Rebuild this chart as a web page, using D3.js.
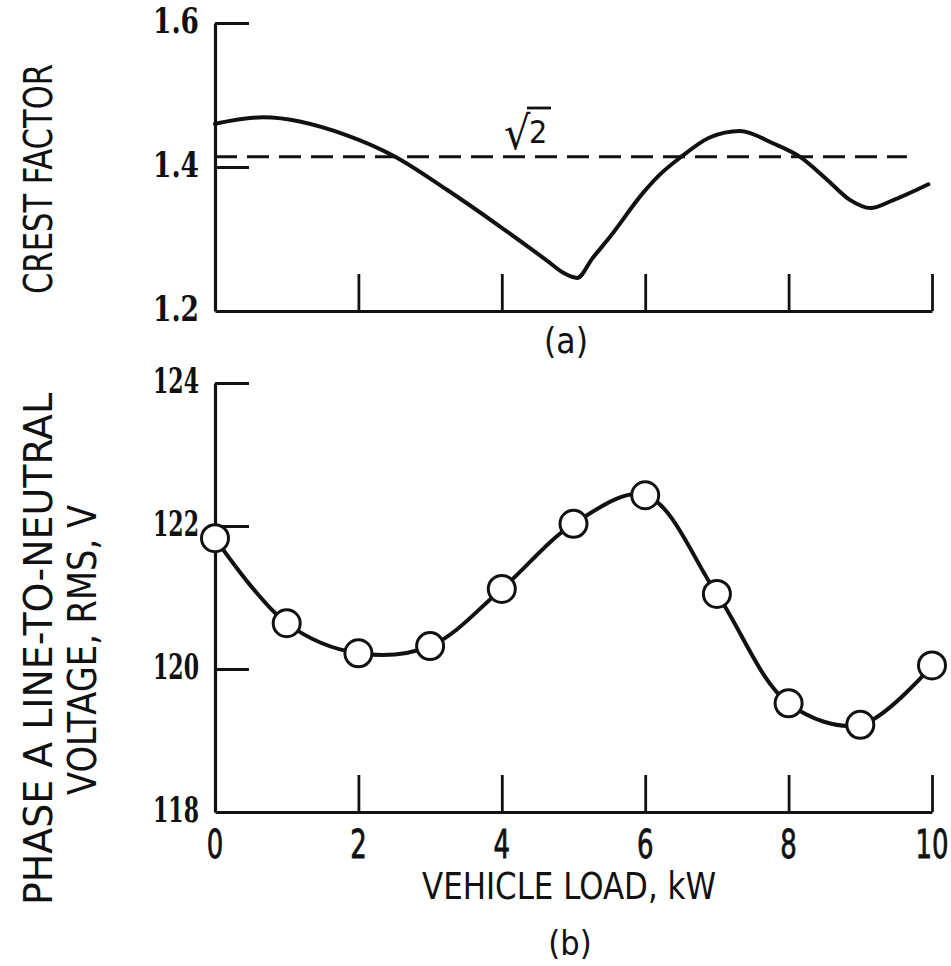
<!DOCTYPE html>
<html>
<head>
<meta charset="utf-8">
<script src="https://cdn.jsdelivr.net/npm/d3@7"></script>
<style>
  body { margin: 0; background: #fff; }
  svg { display: block; }
  .title { font-family: "Liberation Sans Narrow", "DejaVu Sans Condensed", "Open Sans", sans-serif; fill: #111; }
  .num { font-family: "DejaVu Serif Condensed", "DejaVu Serif", serif; fill: #111; }
</style>
</head>
<body>
<svg id="chart" width="951" height="966"></svg>
<script>
// ---------- data ----------
const loadTicks = [2, 4, 6, 8, 10];
const loadTickLabels = ["0", "2", "4", "6", "8", "10"];
const loadTickLabelValues = [0, 2, 4, 6, 8, 10];

// (a) crest factor curve
const crestLoad = [0, 0.67, 1.84, 2.5, 3.24, 3.98, 4.63, 4.86, 5.05, 5.27, 5.51, 5.97, 6.2, 6.5, 6.9, 7.32, 7.78, 8.16, 8.54, 8.86, 9.14, 9.46, 9.95];
const crestFactor = [1.460, 1.469, 1.444, 1.415, 1.368, 1.317, 1.270, 1.253, 1.246, 1.274, 1.303, 1.364, 1.389, 1.414, 1.441, 1.450, 1.433, 1.414, 1.382, 1.354, 1.343, 1.354, 1.376];
const crestTicks = [1.4, 1.6];
const crestTickLabelValues = [1.2, 1.4, 1.6];
const crestTickLabels = ["1.2", "1.4", "1.6"];
const refValue = Math.SQRT2;
const refEnd = 9.65;

// (b) phase A line-to-neutral voltage
const voltLoad = [0, 1, 2, 3, 4, 5, 6, 7, 8, 9, 10];
const voltRms = [121.83, 120.64, 120.22, 120.32, 121.12, 122.03, 122.43, 121.05, 119.52, 119.22, 120.05];
const voltTicks = [120, 122, 124];
const voltTickLabelValues = [118, 120, 122, 124];
const voltTickLabels = ["118", "120", "122", "124"];

// ---------- drawing ----------
const svg = d3.select("#chart");
const ink = "#111";

const x = d3.scaleLinear().domain([0, 10]).range([215, 932]);
const yA = d3.scaleLinear().domain([1.2, 1.6]).range([311, 23]);
const yB = d3.scaleLinear().domain([118, 124]).range([812, 383]);

function styleAxis(g) {
  g.select(".domain").attr("stroke", ink).attr("stroke-width", 3.2);
  g.selectAll(".tick line").attr("stroke", ink).attr("stroke-width", 2.8);
  g.selectAll(".tick text").remove();
}

function panel(y, yTicks, ySize) {
  svg.append("g").attr("transform", `translate(${x(0)},0)`)
    .call(d3.axisLeft(y).tickValues(yTicks).tickSizeInner(-ySize).tickSizeOuter(0).tickFormat(""))
    .call(styleAxis);
  svg.append("g").attr("transform", `translate(0,${y.range()[0]})`)
    .call(d3.axisBottom(x).tickValues(loadTicks).tickSizeInner(-37).tickSizeOuter(0).tickFormat(""))
    .call(styleAxis);
}

panel(yA, crestTicks, 34);
panel(yB, voltTicks, 34);

// y tick labels: squeezed horizontally to a fixed width with a scale transform
function yLabels(y, vals, labels) {
  svg.append("g").selectAll("text").data(vals).join("text")
    .attr("class", "num")
    .attr("text-anchor", "end")
    .attr("dominant-baseline", "central")
    .attr("font-size", 35)
    .attr("font-weight", "bold")
    .text((d, i) => labels[i])
    .attr("transform", function(d) {
      const w = this.getComputedTextLength();
      return `translate(199,${y(d) - 2}) scale(${46 / w},1)`;
    });
}
yLabels(yA, crestTickLabelValues, crestTickLabels);
yLabels(yB, voltTickLabelValues, voltTickLabels);

// reference sqrt(2) line
svg.append("line")
  .attr("x1", x(0)).attr("x2", x(refEnd))
  .attr("y1", yA(refValue)).attr("y2", yA(refValue))
  .attr("stroke", ink).attr("stroke-width", 3.2)
  .attr("stroke-dasharray", "22 10");

// sqrt(2) label
svg.append("text").attr("class", "title")
  .attr("x", 504).attr("y", 149)
  .attr("font-size", 46)
  .text("\u221A");
svg.append("text").attr("class", "title")
  .attr("x", 529).attr("y", 143)
  .attr("font-size", 32)
  .text("2");
svg.append("line")
  .attr("x1", 527).attr("x2", 551).attr("y1", 108).attr("y2", 108)
  .attr("stroke", ink).attr("stroke-width", 2.8);

// crest factor curve
const crestData = crestLoad.map((d, i) => [d, crestFactor[i]]);
svg.append("path")
  .datum(crestData)
  .attr("fill", "none").attr("stroke", ink).attr("stroke-width", 4)
  .attr("stroke-linecap", "round").attr("stroke-linejoin", "round")
  .attr("d", d3.line().x(d => x(d[0])).y(d => yA(d[1])).curve(d3.curveMonotoneX));

// voltage curve + points
const voltData = voltLoad.map((d, i) => [d, voltRms[i]]);
svg.append("path")
  .datum(voltData)
  .attr("fill", "none").attr("stroke", ink).attr("stroke-width", 4)
  .attr("stroke-linecap", "round")
  .attr("d", d3.line().x(d => x(d[0])).y(d => yB(d[1])).curve(d3.curveCatmullRom.alpha(0.5)));
svg.append("g").selectAll("circle").data(voltData).join("circle")
  .attr("cx", d => x(d[0])).attr("cy", d => yB(d[1])).attr("r", 13.5)
  .attr("fill", "#fff").attr("stroke", ink).attr("stroke-width", 3);

// x tick labels (bottom) — narrow lettering via horizontal scale
svg.append("g").selectAll("text").data(loadTickLabelValues).join("text")
  .attr("class", "title")
  .attr("transform", d => `translate(${x(d)},858) scale(0.74,1)`)
  .attr("text-anchor", "middle")
  .attr("font-size", 39)
  .attr("stroke", ink).attr("stroke-width", 0.8)
  .text((d, i) => loadTickLabels[i]);

// titles
svg.append("text").attr("class", "title")
  .attr("x", 569).attr("y", 899).attr("text-anchor", "middle")
  .attr("font-size", 37).attr("textLength", 294).attr("lengthAdjust", "spacingAndGlyphs")
  .text("VEHICLE LOAD, kW");

svg.append("text").attr("class", "title")
  .attr("x", 566).attr("y", 353).attr("text-anchor", "middle")
  .attr("font-size", 35)
  .text("(a)");
svg.append("text").attr("class", "title")
  .attr("x", 570).attr("y", 955).attr("text-anchor", "middle")
  .attr("font-size", 34)
  .text("(b)");

function vTitle(cx, cy, len, txt) {
  svg.append("text").attr("class", "title")
    .attr("transform", `translate(${cx},${cy}) rotate(-90)`)
    .attr("text-anchor", "middle")
    .attr("font-size", 39).attr("textLength", len).attr("lengthAdjust", "spacingAndGlyphs")
    .text(txt);
}
vTitle(52, 179, 230, "CREST FACTOR");
vTitle(52, 649, 512, "PHASE A LINE-TO-NEUTRAL");
vTitle(96, 650, 290, "VOLTAGE, RMS, V");
</script>
</body>
</html>
